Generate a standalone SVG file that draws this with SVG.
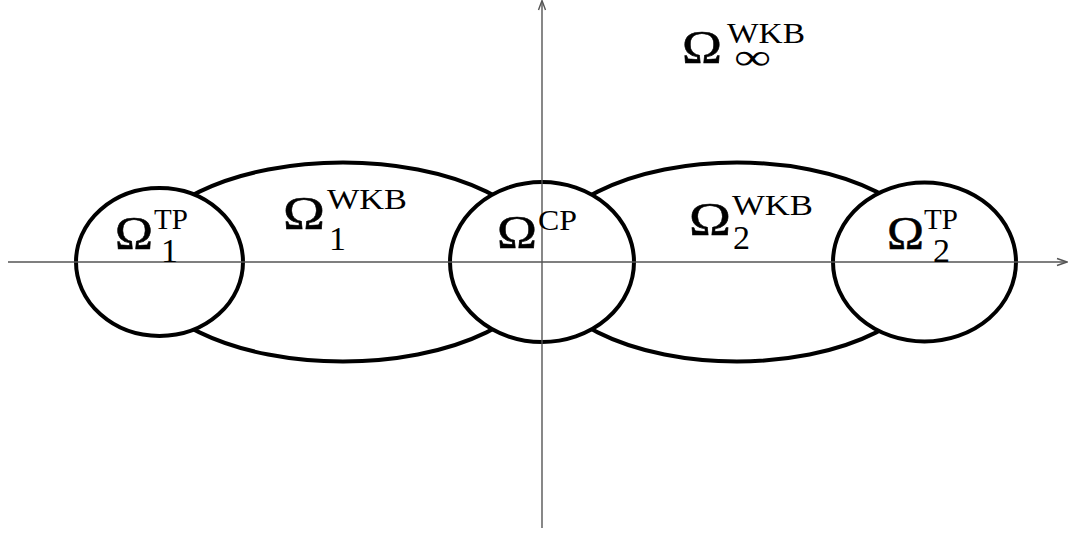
<svg xmlns="http://www.w3.org/2000/svg" width="1068" height="533" viewBox="0 0 1068 533">
<style>
.region{fill:none;stroke:#000;stroke-width:4}
.disc{fill:#fff;stroke:#000;stroke-width:4}
.axis{fill:none;stroke:#555;stroke-width:1.4}
text{font-family:"Liberation Serif","Times New Roman",serif;fill:#000}
.om{font-size:46px;stroke:#000;stroke-width:0.5}
.sup{font-size:29px}
.sub{font-size:34px}
.inf{font-size:36px}
</style>
<rect width="1068" height="533" fill="#fff"/>
<g id="wkb1">
<ellipse class="region" cx="343" cy="262" rx="203" ry="99.5"/>
</g>
<g id="wkb2">
<ellipse class="region" cx="737" cy="262" rx="197" ry="99.5"/>
</g>
<g id="tp1">
<ellipse class="disc" cx="159.5" cy="262" rx="83.5" ry="74"/>
</g>
<g id="cp">
<ellipse class="disc" cx="542" cy="262" rx="92" ry="80"/>
</g>
<g id="tp2">
<ellipse class="disc" cx="924.5" cy="262" rx="91.5" ry="79.5"/>
</g>
<g id="connectors">
<line class="axis" x1="8" y1="262" x2="1066" y2="262"/>
<polyline class="axis" points="1057,258.5 1067,262 1057,265.5"/>
<line class="axis" x1="542" y1="528" x2="542" y2="1"/>
<polyline class="axis" points="538.5,10 542,0.5 545.5,10"/>
</g>
<g id="labels">
<text class="om" x="115" y="249" textLength="38" lengthAdjust="spacingAndGlyphs">Ω</text>
<text class="sup" x="154" y="229">TP</text>
<text class="sub" x="161" y="262">1</text>

<text class="om" x="283" y="229" textLength="42" lengthAdjust="spacingAndGlyphs">Ω</text>
<text class="sup" x="327" y="209" textLength="80" lengthAdjust="spacingAndGlyphs">WKB</text>
<text class="sub" x="329" y="250">1</text>

<text class="om" x="497" y="248" textLength="40" lengthAdjust="spacingAndGlyphs">Ω</text>
<text class="sup" x="538" y="230" textLength="39" lengthAdjust="spacingAndGlyphs">CP</text>

<text class="om" x="689" y="235" textLength="42" lengthAdjust="spacingAndGlyphs">Ω</text>
<text class="sup" x="732" y="215" textLength="81" lengthAdjust="spacingAndGlyphs">WKB</text>
<text class="sub" x="733" y="249">2</text>

<text class="om" x="887" y="249" textLength="37" lengthAdjust="spacingAndGlyphs">Ω</text>
<text class="sup" x="924" y="229">TP</text>
<text class="sub" x="933" y="262">2</text>

<text class="om" x="682" y="63" textLength="40" lengthAdjust="spacingAndGlyphs">Ω</text>
<text class="sup" x="727" y="43" textLength="78" lengthAdjust="spacingAndGlyphs">WKB</text>
<text class="inf" x="734" y="69" textLength="37" lengthAdjust="spacingAndGlyphs">∞</text>
</g>
</svg>
